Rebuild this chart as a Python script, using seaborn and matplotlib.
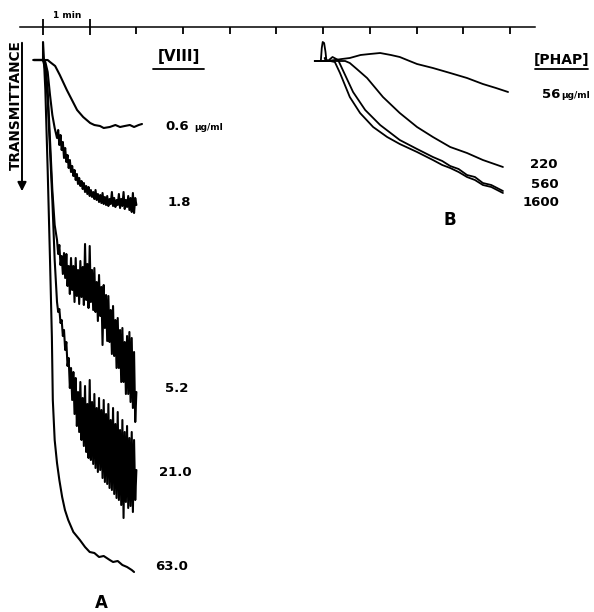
import numpy as np
import pandas as pd
import matplotlib
matplotlib.use("Agg")
import matplotlib.pyplot as plt
import seaborn as sns

# time in minutes after addition, deflection = pen position on the chart (down = less transmittance)
tHead = [-0.20, 0.00, 0.05, 0.10, 0.15, 0.20, 0.25]
tTail = [0.300, 0.325, 0.350, 0.375, 0.400, 0.425, 0.450, 0.475, 0.500, 0.525,
         0.550, 0.575, 0.600, 0.625, 0.650, 0.675, 0.700, 0.725, 0.750, 0.775,
         0.800, 0.825, 0.850, 0.875, 0.900, 0.925, 0.950, 0.975, 1.000, 1.025,
         1.050, 1.075, 1.100, 1.125, 1.150, 1.175, 1.200, 1.225, 1.250, 1.275,
         1.300, 1.325, 1.350, 1.375, 1.400, 1.425, 1.450, 1.475, 1.500, 1.525,
         1.550, 1.575, 1.600, 1.625, 1.650, 1.675, 1.700, 1.725, 1.750, 1.775,
         1.800, 1.825, 1.850, 1.875, 1.900, 1.925, 1.950, 1.975, 2.000]

# panel A, factor VIII traces
t06 = [-0.20, 0.10, 0.15, 0.26, 0.36, 0.51, 0.62, 0.73, 0.86, 1.01, 1.10, 1.22, 1.30,
       1.43, 1.55, 1.65, 1.75, 1.86, 1.95, 2.05, 2.12]
y06 = [60, 60, 62, 66, 75, 90, 100, 110, 117, 123, 125, 126, 128, 127, 125, 127, 126,
       125, 127, 125, 124]

y18 = [60, 60, 62, 72, 95, 115, 128] + \
      [138, 130, 145, 135, 150, 142, 158, 148, 162, 155, 168, 160, 172, 166, 176, 170,
       180, 174, 184, 178, 186, 181, 189, 183, 192, 186, 194, 187, 196, 190, 197, 192,
       199, 190, 200, 194, 202, 195, 203, 193, 204, 197, 205, 196, 206, 199, 204, 192,
       206, 198, 207, 200, 205, 194, 208, 199, 206, 192, 209, 200, 207, 196, 210, 198,
       212, 193, 213, 198, 205]
y52 = [60, 60, 65, 90, 140, 190, 225] + \
      [240, 254, 245, 265, 256, 274, 253, 278, 254, 286, 266, 294, 258, 290, 266, 302,
       258, 296, 270, 304, 261, 297, 267, 305, 244, 300, 264, 308, 246, 302, 270, 310,
       268, 312, 282, 321, 275, 316, 287, 345, 285, 328, 295, 341, 296, 342, 310, 354,
       306, 356, 320, 368, 318, 368, 330, 382, 328, 382, 342, 394, 336, 394, 332, 402,
       338, 408, 352, 422, 392]
y210 = [60, 60, 70, 100, 150, 200, 260] + \
       [302, 312, 309, 323, 320, 336, 330, 350, 342, 366, 358, 388, 368, 400, 372, 414,
        378, 426, 392, 432, 382, 440, 398, 446, 386, 452, 404, 458, 380, 460, 402, 464,
        394, 468, 408, 472, 398, 470, 410, 478, 400, 482, 414, 484, 404, 488, 420, 490,
        408, 494, 424, 498, 412, 500, 430, 505, 420, 518, 432, 502, 426, 508, 438, 506,
        432, 512, 440, 500, 470]

t630 = [-0.20, 0.00, 0.00, 0.02, 0.05, 0.10, 0.15, 0.19, 0.21, 0.25, 0.30, 0.35, 0.41,
        0.47, 0.54, 0.65, 0.79, 0.90, 1.00, 1.10, 1.20, 1.30, 1.43, 1.50, 1.60, 1.70,
        1.80, 1.90, 1.95]
y630 = [60, 60, 42, 60, 90, 170, 260, 337, 400, 440, 463, 480, 497, 510, 520, 532, 540,
        547, 552, 553, 557, 556, 560, 562, 561, 565, 567, 570, 572]

# panel B, PHAP traces
t56 = [5.82, 5.95, 5.97, 5.99, 6.02, 6.05, 6.07, 6.03, 6.10, 6.25, 6.40, 6.57, 6.80,
       7.00, 7.22, 7.45, 7.64, 7.85, 8.01, 8.35, 8.72, 9.08, 9.42, 9.70, 9.96]
y56 = [61, 61, 48, 42, 43, 52, 61, 58, 61, 60, 59, 58, 55, 54, 53, 55, 57, 61, 64, 68,
       73, 78, 84, 88, 92]
t220 = [5.82, 6.30, 6.47, 6.57, 6.72, 6.94, 7.28, 7.64, 8.01, 8.35, 8.72, 9.08, 9.42, 9.85]
y220 = [61, 61, 61, 63, 69, 78, 97, 113, 127, 137, 147, 153, 160, 167]
t560 = [5.82, 6.10, 6.20, 6.32, 6.40, 6.64, 6.90, 7.22, 7.64, 8.01, 8.35, 8.55, 8.72,
        8.90, 9.08, 9.25, 9.42, 9.60, 9.85]
y560 = [61, 61, 57, 60, 68, 92, 110, 125, 140, 149, 157, 161, 166, 169, 175, 177, 183,
        185, 191]
t1600 = [5.82, 6.15, 6.25, 6.36, 6.57, 6.79, 7.07, 7.37, 7.64, 8.01, 8.35, 8.55, 8.72,
         8.90, 9.08, 9.25, 9.42, 9.60, 9.85]
y1600 = [61, 61, 62, 73, 97, 113, 127, 137, 144, 152, 160, 165, 168, 172, 177, 180, 185,
         187, 193]

minuteTicks = [0, 1, 2, 3, 4, 5, 6, 7, 8, 9, 10]


def trace(name, t, y):
    return pd.DataFrame({"t": t, "y": y, "trace": name})


sns.set_style("white")
plt.rcParams["font.family"] = ["DejaVu Sans"]
plt.rcParams["text.color"] = "black"

fig = plt.figure(figsize=(5.94, 6.12), dpi=100)
ax = fig.add_axes([0, 0, 1, 1])

panelA = pd.concat([
    trace("0.6", t06, y06),
    trace("1.8", tHead + tTail, y18),
    trace("5.2", tHead + tTail, y52),
    trace("21.0", tHead + tTail, y210),
    trace("63.0", t630, y630),
])
panelB = pd.concat([
    trace("56", t56, y56),
    trace("220", t220, y220),
    trace("560", t560, y560),
    trace("1600", t1600, y1600),
])

sns.lineplot(data=panelA, x="t", y="y", units="trace", estimator=None, sort=False,
             color="black", lw=1.5, ax=ax)
sns.lineplot(data=panelB, x="t", y="y", units="trace", estimator=None, sort=False,
             color="black", lw=1.3, ax=ax)

ax.set_xlim(-0.921, 11.8)
ax.set_ylim(612, 0)
ax.set_xlabel("")
ax.set_ylabel("")
ax.set_yticks([])

# time bar at the top
for side in ["left", "right", "bottom"]:
    ax.spines[side].set_visible(False)
ax.spines["top"].set_position(("data", 27))
ax.spines["top"].set_bounds(-0.49, 10.53)
ax.spines["top"].set_linewidth(1.1)
ax.spines["top"].set_color("black")
ax.xaxis.set_ticks_position("top")
ax.set_xticks(minuteTicks[2:])
ax.set_xticks(minuteTicks[:2], minor=True)
ax.tick_params(axis="x", which="major", direction="in", length=5, width=1.3,
               color="black", labeltop=False)
ax.tick_params(axis="x", which="minor", direction="inout", length=11, width=1.3,
               color="black", labeltop=False)
ax.text(0.51, 16, "1 min", fontsize=6.5, fontweight="bold", ha="center", va="center")

bold = dict(fontweight="bold", va="center")

# panel A labels
ax.text(-0.58, 105, "TRANSMITTANCE", rotation=90, fontsize=9.8, ha="center", **bold)
ax.annotate("", xy=(-0.45, 194), xytext=(-0.45, 40),
            arrowprops=dict(arrowstyle="-|>", lw=1.4, color="black", mutation_scale=13))
ax.text(2.91, 57, "[VIII]", fontsize=11, ha="center", **bold)
ax.plot([2.36, 3.45], [69, 69], color="black", lw=1.3)
ax.text(2.61, 127, "0.6", fontsize=9.5, ha="left", **bold)
ax.text(3.23, 128, "μg/ml", fontsize=6.5, ha="left", **bold)
ax.text(2.66, 203, "1.8", fontsize=9.5, ha="left", **bold)
ax.text(2.61, 388, "5.2", fontsize=9.5, ha="left", **bold)
ax.text(2.48, 473, "21.0", fontsize=9.5, ha="left", **bold)
ax.text(2.40, 566, "63.0", fontsize=9.5, ha="left", **bold)
ax.text(1.24, 603, "A", fontsize=12, ha="center", **bold)

# panel B labels
ax.text(11.11, 60, "[PHAP]", fontsize=10, ha="center", **bold)
ax.plot([10.54, 11.67], [69, 69], color="black", lw=1.3)
ax.text(10.69, 95, "56", fontsize=9.5, ha="left", **bold)
ax.text(11.10, 96, "μg/ml", fontsize=6.5, ha="left", **bold)
ax.text(10.43, 165, "220", fontsize=9.5, ha="left", **bold)
ax.text(10.45, 185, "560", fontsize=9.5, ha="left", **bold)
ax.text(10.28, 202, "1600", fontsize=9.5, ha="left", **bold)
ax.text(8.72, 220, "B", fontsize=12, ha="center", **bold)

fig.savefig("out.png", dpi=100)
